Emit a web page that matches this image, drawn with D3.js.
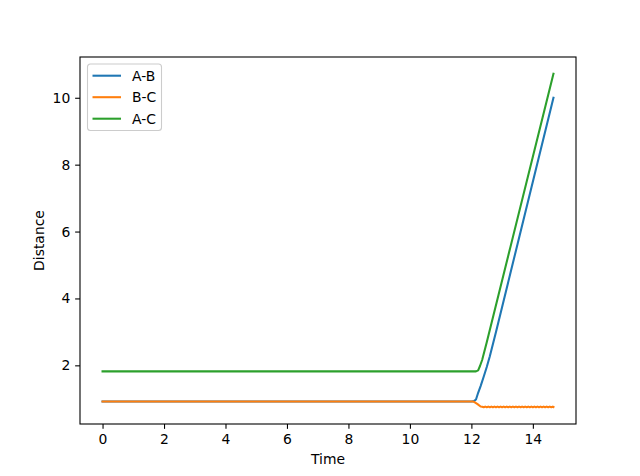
<!DOCTYPE html>
<html>
<head>
<meta charset="utf-8">
<script src="https://cdn.jsdelivr.net/npm/d3@7"></script>
<style>
  body { margin: 0; background: #fff; }
  svg { display: block; font-family: "DejaVu Sans", sans-serif; }
</style>
</head>
<body>
<div id="chart"></div>
<script>
// ---- data ----
const timeAB = [0, 12.0, 12.08, 12.15, 12.22, 12.3, 12.4, 12.5, 12.6, 12.8, 14.67];
const distAB = [0.92, 0.92, 0.93, 0.98, 1.18, 1.38, 1.66, 1.95, 2.27, 3.0, 10.0];

const timeAC = [0, 12.15, 12.22, 12.28, 12.35, 12.5, 14.67];
const distAC = [1.82, 1.82, 1.85, 1.98, 2.16, 2.69, 10.72];

const timeBC = [0, 12.05, 12.1, 12.2, 12.3, 12.35,
  12.40, 12.45, 12.50, 12.55, 12.60, 12.65, 12.70, 12.75, 12.80, 12.85,
  12.90, 12.95, 13.00, 13.05, 13.10, 13.15, 13.20, 13.25, 13.30, 13.35,
  13.40, 13.45, 13.50, 13.55, 13.60, 13.65, 13.70, 13.75, 13.80, 13.85,
  13.90, 13.95, 14.00, 14.05, 14.10, 14.15, 14.20, 14.25, 14.30, 14.35,
  14.40, 14.45, 14.50, 14.55, 14.60, 14.65, 14.67];
const distBC = [0.92, 0.92, 0.9, 0.84, 0.77, 0.76,
  0.745, 0.765, 0.745, 0.765, 0.745, 0.765, 0.745, 0.765, 0.745, 0.765,
  0.745, 0.765, 0.745, 0.765, 0.745, 0.765, 0.745, 0.765, 0.745, 0.765,
  0.745, 0.765, 0.745, 0.765, 0.745, 0.765, 0.745, 0.765, 0.745, 0.765,
  0.745, 0.765, 0.745, 0.765, 0.745, 0.765, 0.745, 0.765, 0.745, 0.765,
  0.745, 0.765, 0.745, 0.765, 0.745, 0.765, 0.755];

const seriesNames = ["A-B", "B-C", "A-C"];
const seriesColors = ["#1f77b4", "#ff7f0e", "#2ca02c"];
const xTicks = [0, 2, 4, 6, 8, 10, 12, 14];
const yTicks = [2, 4, 6, 8, 10];

// ---- layout (matplotlib default figure) ----
const width = 640, height = 476;
const margin = { top: 57, right: 64, bottom: 52, left: 80 };
const innerW = width - margin.left - margin.right;
const innerH = height - margin.top - margin.bottom;

const series = [
  { name: seriesNames[0], color: seriesColors[0], pts: timeAB.map((t, i) => [t, distAB[i]]) },
  { name: seriesNames[1], color: seriesColors[1], pts: timeBC.map((t, i) => [t, distBC[i]]) },
  { name: seriesNames[2], color: seriesColors[2], pts: timeAC.map((t, i) => [t, distAC[i]]) }
];

const allPts = series.flatMap(s => s.pts);
const [xMin, xMax] = d3.extent(allPts, d => d[0]);
const [yMin, yMax] = d3.extent(allPts, d => d[1]);
const xPad = (xMax - xMin) * 0.05, yPad = (yMax - yMin) * 0.05;

const x = d3.scaleLinear().domain([xMin - xPad, xMax + xPad]).range([0, innerW]);
const y = d3.scaleLinear().domain([yMin - yPad, yMax + yPad]).range([innerH, 0]);

const svg = d3.select("#chart").append("svg")
  .attr("width", width)
  .attr("height", height);

const g = svg.append("g").attr("transform", `translate(${margin.left},${margin.top})`);

// clip for lines
g.append("clipPath").attr("id", "clip")
  .append("rect").attr("width", innerW).attr("height", innerH);

const line = d3.line().x(d => x(d[0])).y(d => y(d[1]));

g.append("g").attr("clip-path", "url(#clip)")
  .selectAll("path")
  .data(series)
  .enter().append("path")
  .attr("d", d => line(d.pts))
  .attr("fill", "none")
  .attr("stroke", d => d.color)
  .attr("stroke-width", 2.08)
  .attr("stroke-linejoin", "round")
  .attr("stroke-linecap", "square");

// axes
const xAxis = d3.axisBottom(x).tickValues(xTicks).tickSize(4.86).tickPadding(4.86).tickSizeOuter(0);
const yAxis = d3.axisLeft(y).tickValues(yTicks).tickSize(4.86).tickPadding(4.86).tickSizeOuter(0);

const gx = g.append("g").attr("transform", `translate(0,${innerH})`).call(xAxis);
const gy = g.append("g").call(yAxis);
[gx, gy].forEach(ax => {
  ax.select(".domain").remove();
  ax.selectAll(".tick line").attr("stroke", "#000").attr("stroke-width", 1.1);
  ax.selectAll(".tick text").attr("fill", "#000").attr("font-size", "13.9px")
    .attr("font-family", "DejaVu Sans, sans-serif");
});

// frame
g.append("rect")
  .attr("width", innerW).attr("height", innerH)
  .attr("fill", "none").attr("stroke", "#000").attr("stroke-width", 1.1);

// axis labels
svg.append("text")
  .attr("x", margin.left + innerW / 2)
  .attr("y", 464)
  .attr("text-anchor", "middle")
  .attr("font-size", "13.9px")
  .text("Time");

svg.append("text")
  .attr("transform", `translate(44,${margin.top + innerH / 2}) rotate(-90)`)
  .attr("text-anchor", "middle")
  .attr("font-size", "13.9px")
  .text("Distance");

// legend
const leg = g.append("g").attr("transform", "translate(7.5,7)");
leg.append("rect")
  .attr("width", 74).attr("height", 66.5)
  .attr("rx", 3).attr("ry", 3)
  .attr("fill", "#fff").attr("fill-opacity", 0.8)
  .attr("stroke", "#cccccc").attr("stroke-width", 1.1);

const item = leg.selectAll("g.item")
  .data(series)
  .enter().append("g")
  .attr("class", "item")
  .attr("transform", (d, i) => `translate(0,${11.7 + i * 21.5})`);

item.append("line")
  .attr("x1", 5).attr("x2", 33.5)
  .attr("stroke", d => d.color).attr("stroke-width", 2.08);

item.append("text")
  .attr("x", 44.5).attr("dy", "0.36em")
  .attr("font-size", "13.9px")
  .text(d => d.name);
</script>
</body>
</html>
